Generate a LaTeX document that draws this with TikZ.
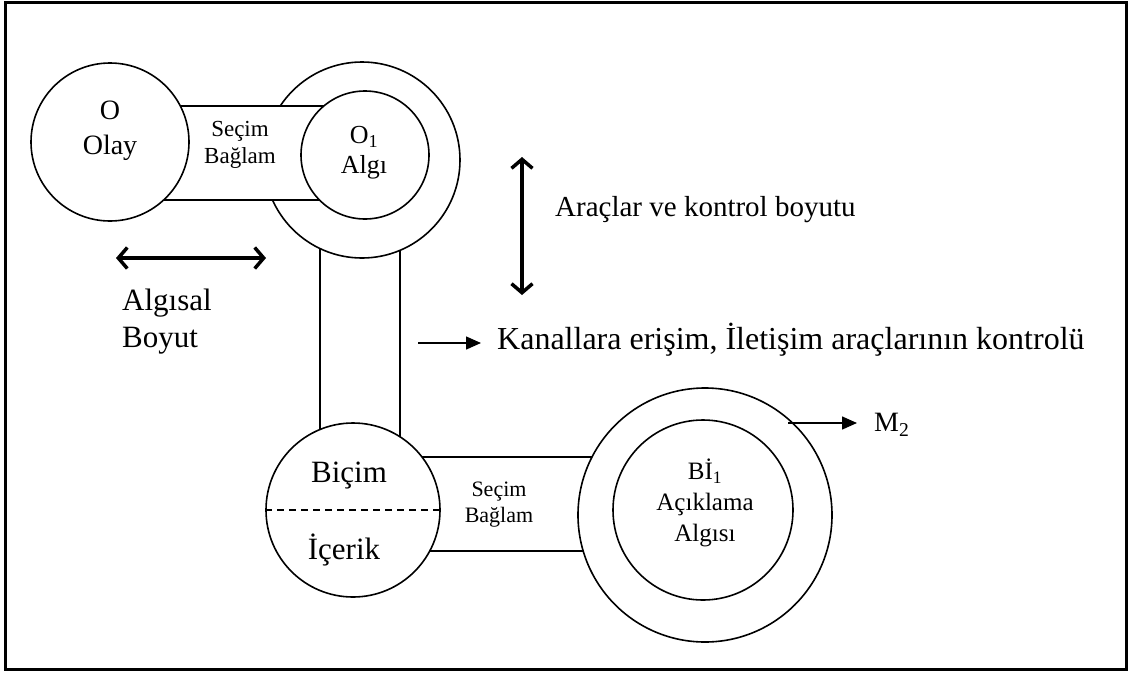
\documentclass[tikz,border=0pt]{standalone}
\usepackage{fontspec}
\setmainfont{Liberation Serif}
\usetikzlibrary{arrows.meta}

\begin{document}
\begin{tikzpicture}[x=1pt,y=-1pt,
  ring/.style={circle,draw,fill=white,line width=1.6pt,inner sep=0pt},
  band/.style={draw,fill=white,line width=1.6pt},
  dimarrow/.style={line width=3.5pt,{Straight Barb[length=9pt,width=21pt]}-{Straight Barb[length=9pt,width=21pt]}},
  ptrarrow/.style={line width=1.5pt,-{Triangle[length=15pt,width=13pt]}},
  lbl/.style={inner sep=0pt,align=center}]
\useasboundingbox (0,0) rectangle (1130,673);
\draw[line width=3pt] (5,2) rectangle (1126,669);

% bands between the circles
\draw[band] (320,160) rectangle (400,510);
\draw[band] (353,457) rectangle (705,551);
\node[ring,minimum size=196pt] (o1out) at (362,160) {};
\draw[band] (110,106) rectangle (365,200);

% circles
\node[ring,minimum size=158pt] (olay) at (110,142) {};
\node[ring,minimum size=128pt] (o1in) at (365,155) {};
\node[ring,minimum size=174pt] (bicim) at (353,510) {};
\node[ring,minimum size=254pt] (biout) at (705,515) {};
\node[ring,minimum size=180pt] (biin) at (703,510) {};
\draw[line width=1.5pt,dash pattern=on 7pt off 5pt] (bicim.west) -- (bicim.east);

% texts
\node[lbl,font=\fontsize{28}{35}\selectfont] (olaytxt) at (110,131) {O\\Olay};
\node[lbl,font=\fontsize{23}{27}\selectfont] (secim1) at (240,145) {Seçim\\Bağlam};
\node[lbl,font=\fontsize{26}{30}\selectfont] (algitxt) at (364,153) {O\textsubscript{1}\\Algı};
\node[lbl,font=\fontsize{31}{36}\selectfont] (bicimtxt) at (349,476) {Biçim};
\node[lbl,font=\fontsize{31}{36}\selectfont] (iceriktxt) at (344,550) {İçerik};
\node[lbl,font=\fontsize{22}{26}\selectfont] (secim2) at (499,505) {Seçim\\Bağlam};
\node[lbl,font=\fontsize{25}{31}\selectfont] (bitxt) at (705,503) {Bİ\textsubscript{1}\\Açıklama\\Algısı};
\node[lbl,anchor=west,align=left,font=\fontsize{31}{37}\selectfont] (boyut) at (122,322) {Algısal\\Boyut};
\node[lbl,anchor=west,font=\fontsize{29}{34}\selectfont] (araclar) at (555,210) {Araçlar ve kontrol boyutu};
\node[lbl,anchor=west,font=\fontsize{32}{36}\selectfont] (kanal) at (497,340) {Kanallara erişim, İletişim araçlarının kontrolü};
\node[lbl,anchor=west,font=\fontsize{28}{32}\selectfont] (mtwo) at (874,425) {M\textsubscript{2}};

% arrows
\coordinate (hl) at (116,258);
\coordinate (hr) at (266,258);
\draw[dimarrow] (hl) -- (hr);
\coordinate (vt) at (522,157);
\coordinate (vb) at (522,295);
\draw[dimarrow] (vt) -- (vb);
\coordinate (ka) at (418,343);
\draw[ptrarrow,shorten >=16pt] (ka) -- (ka -| kanal.west);
\coordinate (ma) at (788,423);
\draw[ptrarrow,shorten >=17pt] (ma) -- (ma -| mtwo.west);
\end{tikzpicture}
\end{document}
